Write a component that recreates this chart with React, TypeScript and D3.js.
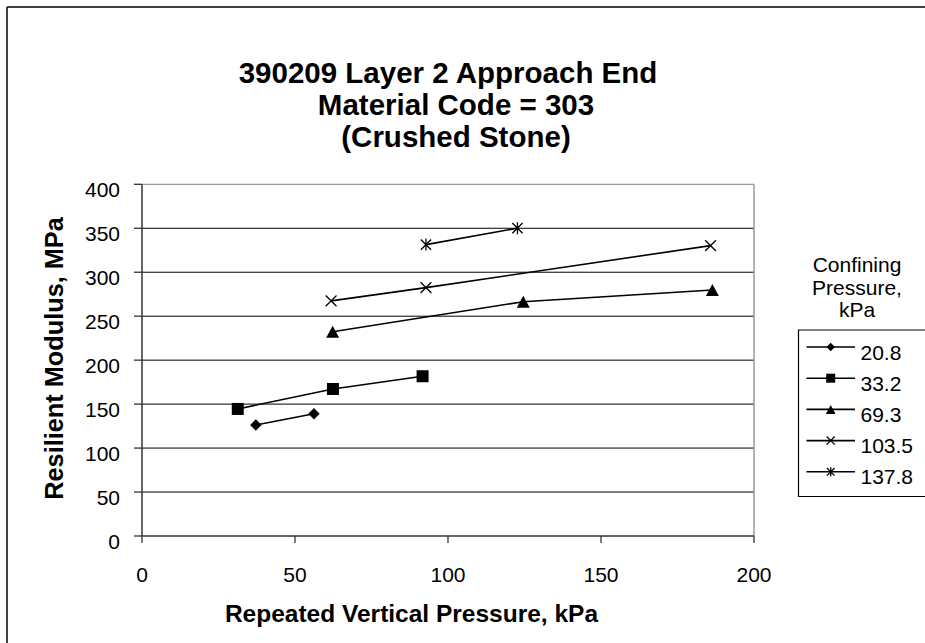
import React from "react";
import * as d3 from "d3";

const titleLines = ["390209 Layer 2 Approach End", "Material Code = 303", "(Crushed Stone)"];
const xTicks = [0, 50, 100, 150, 200];
const yTicks = [0, 50, 100, 150, 200, 250, 300, 350, 400];
const seriesNames = ["20.8", "33.2", "69.3", "103.5", "137.8"];
const markerKinds = ["diamond", "square", "triangle", "x", "star"];

const x208 = [37.2, 56.2];
const y208 = [126.3, 139.1];
const x332 = [31.3, 62.4, 91.7];
const y332 = [144.5, 167.2, 181.7];
const x693 = [62.3, 124.6, 186.4];
const y693 = [232.3, 266.5, 279.7];
const x1035 = [61.8, 92.8, 185.8];
const y1035 = [267.4, 282.5, 330.3];
const x1378 = [92.8, 122.7];
const y1378 = [331.4, 350.1];

const seriesX = [x208, x332, x693, x1035, x1378];
const seriesY = [y208, y332, y693, y1035, y1378];

const FONT = "'Liberation Sans', Arial, Helvetica, sans-serif";

function Marker({ kind, cx, cy, s }: { kind: string; cx: number; cy: number; s: number }) {
  const t = `translate(${cx},${cy})`;
  if (kind === "diamond") {
    const r = s * 0.95;
    return <path transform={t} d={`M0,${-r}L${r},0L0,${r}L${-r},0Z`} fill="#000" />;
  }
  if (kind === "square") {
    return <rect x={cx - s} y={cy - s} width={2 * s} height={2 * s} fill="#000" />;
  }
  if (kind === "triangle") {
    const w = s * 1.08;
    return <path transform={t} d={`M0,${-s}L${w},${s}L${-w},${s}Z`} fill="#000" />;
  }
  if (kind === "x") {
    const r = s * 0.9;
    return (
      <path transform={t} d={`M${-r},${-r}L${r},${r}M${-r},${r}L${r},${-r}`} stroke="#000" strokeWidth={1.3} fill="none" />
    );
  }
  const r = s * 0.85;
  return (
    <path
      transform={t}
      d={`M${-r},${-r}L${r},${r}M${-r},${r}L${r},${-r}M0,${-s}L0,${s}`}
      stroke="#000"
      strokeWidth={1.3}
      fill="none"
    />
  );
}

export default function App() {
  const W = 925;
  const H = 643;
  const x = d3.scaleLinear().domain([0, 200]).range([142, 754]);
  const y = d3.scaleLinear().domain([0, 400]).range([536, 184.3]);
  const line = d3
    .line<[number, number]>()
    .x((d) => x(d[0]))
    .y((d) => y(d[1]));

  const legendLeft = 798.5;
  const legendTop = 330;
  const legendBottom = 496.5;
  const rowY = (i: number) => 347 + i * 31.2;

  return (
    <div style={{ position: "absolute", left: 0, top: 0 }}>
      <svg width={W} height={H} style={{ display: "block", background: "#fff" }} fontFamily={FONT}>
        <rect x={0} y={0} width={W} height={H} fill="#fff" />
        {/* outer frame */}
        <line x1={7} y1={7} x2={W} y2={7} stroke="#000" strokeWidth={1.5} />
        <line x1={7} y1={7} x2={7} y2={H} stroke="#000" strokeWidth={1.5} />

        {/* title */}
        <text x={448} y={83} textAnchor="middle" fontSize={29.5} fontWeight="bold">{titleLines[0]}</text>
        <text x={456} y={115} textAnchor="middle" fontSize={29.5} fontWeight="bold">{titleLines[1]}</text>
        <text x={456} y={146.5} textAnchor="middle" fontSize={29.5} fontWeight="bold">{titleLines[2]}</text>

        {/* gridlines */}
        {yTicks.slice(1).map((t) => (
          <line key={"g" + t} x1={x(0)} x2={x(200)} y1={y(t)} y2={y(t)} stroke={t === 400 ? "#808080" : "#000"} strokeWidth={1} />
        ))}
        {/* plot right border */}
        <line x1={x(200)} x2={x(200)} y1={y(400)} y2={y(0)} stroke="#999" strokeWidth={1.5} />

        {/* axes */}
        <line x1={x(0)} x2={x(0)} y1={y(400)} y2={y(0)} stroke="#333" strokeWidth={1.5} />
        <line x1={x(0)} x2={x(200)} y1={y(0)} y2={y(0)} stroke="#333" strokeWidth={1.5} />
        {yTicks.map((t) => (
          <g key={"yt" + t}>
            <line x1={x(0) - 8} x2={x(0)} y1={y(t)} y2={y(t)} stroke="#333" strokeWidth={1.3} />
            <text x={120} y={y(t) + 12.8} textAnchor="end" fontSize={21}>{t}</text>
          </g>
        ))}
        {xTicks.map((t) => (
          <g key={"xt" + t}>
            <line x1={x(t)} x2={x(t)} y1={y(0)} y2={y(0) + 7} stroke="#333" strokeWidth={1.3} />
            <text x={x(t)} y={581.5} textAnchor="middle" fontSize={21}>{t}</text>
          </g>
        ))}

        {/* axis titles */}
        <text x={411.5} y={621.5} textAnchor="middle" fontSize={24.5} fontWeight="bold">
          Repeated Vertical Pressure, kPa
        </text>
        <text transform="translate(63,358.5) rotate(-90)" textAnchor="middle" fontSize={25.3} fontWeight="bold">
          Resilient Modulus, MPa
        </text>

        {/* series */}
        {seriesNames.map((name, i) => {
          const pts: [number, number][] = seriesX[i].map((v, j) => [v, seriesY[i][j]]);
          return (
            <g key={name}>
              <path d={line(pts) || ""} fill="none" stroke="#000" strokeWidth={1.6} />
              {pts.map((p, j) => (
                <Marker key={j} kind={markerKinds[i]} cx={x(p[0])} cy={y(p[1])} s={6} />
              ))}
            </g>
          );
        })}

        {/* legend title */}
        <text x={857} y={272} textAnchor="middle" fontSize={21}>Confining</text>
        <text x={857} y={294.5} textAnchor="middle" fontSize={21}>Pressure,</text>
        <text x={857} y={317} textAnchor="middle" fontSize={21}>kPa</text>

        {/* legend */}
        <path
          d={`M${W + 2},${legendTop}H${legendLeft}V${legendBottom}H${W + 2}`}
          fill="#fff"
          stroke="#000"
          strokeWidth={1.2}
        />
        {seriesNames.map((name, i) => (
          <g key={"lg" + name}>
            <line x1={806.5} x2={855} y1={rowY(i)} y2={rowY(i)} stroke="#000" strokeWidth={1.6} />
            <Marker kind={markerKinds[i]} cx={830.7} cy={rowY(i)} s={4.5} />
            <text x={860.5} y={rowY(i) + 12.5} fontSize={21}>{name}</text>
          </g>
        ))}
      </svg>
    </div>
  );
}
